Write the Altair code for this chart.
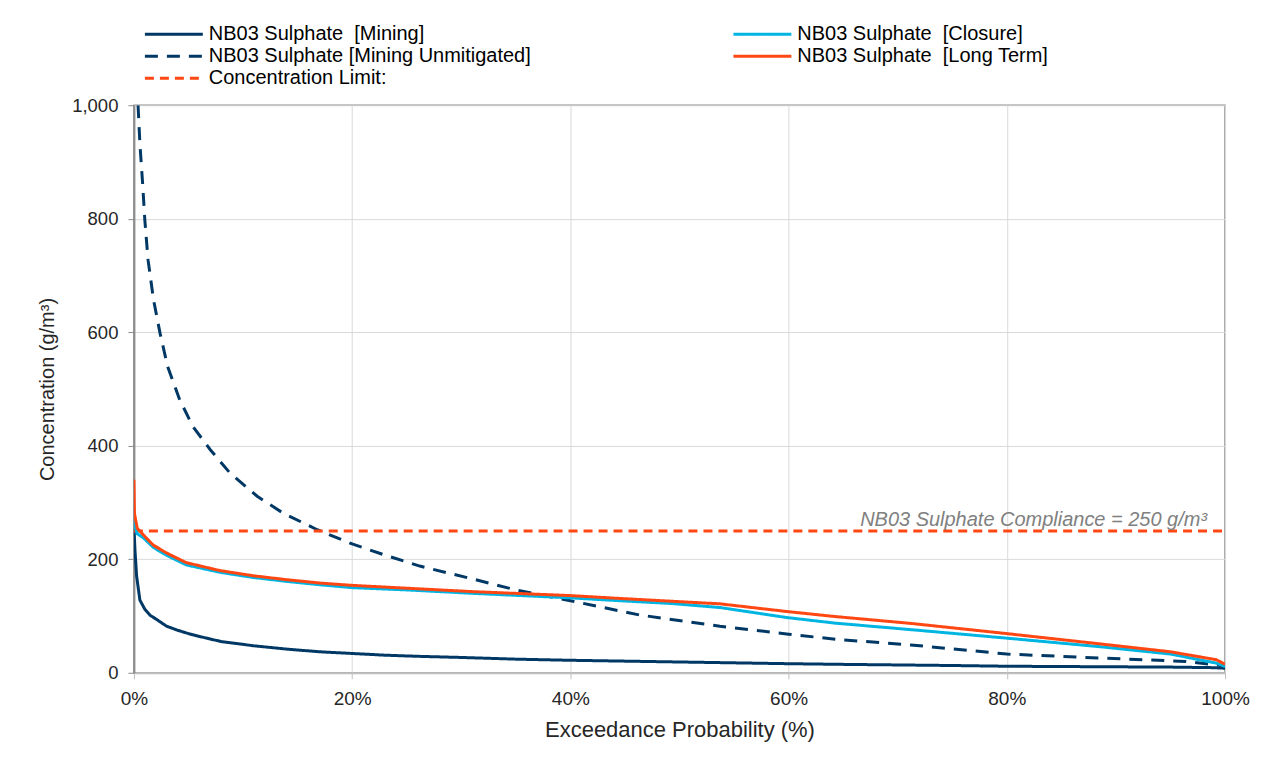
import altair as alt
import pandas as pd

# ---------------- data ----------------
SERIES = [
    "NB03 Sulphate\u00a0 [Mining]",
    "NB03 Sulphate [Mining Unmitigated]",
    "Concentration Limit:",
    "NB03 Sulphate\u00a0 [Closure]",
    "NB03 Sulphate\u00a0 [Long Term]",
]
COLORS = ["#003865", "#003865", "#FF4713", "#00B5E2", "#FF4713"]
DASHES = [[1, 0], [13, 9], [9, 6], [1, 0], [1, 0]]
WIDTHS = [3, 3, 2, 3, 3]

mining_x = [0, 0.1, 0.25, 0.55, 1.0, 1.5, 2, 3, 4, 5, 6, 8, 11, 14, 17, 20, 23, 26, 30, 35,
            40, 45, 50, 55, 60, 65, 70, 75, 80, 85, 90, 95, 99, 100]
mining_y = [260, 215, 170, 128, 112, 101, 95, 82, 75, 69, 64, 55, 47.5, 41.7, 37, 34, 31, 29, 27, 24,
            22, 20.5, 19, 17.5, 16, 14.8, 13.8, 12.8, 11.5, 11, 10.5, 10, 9, 8]

unmit_x = [0.38, 0.55, 0.8, 1.0, 1.3, 1.8, 2.4, 3.1, 4.2, 5.4, 7.0, 8.8, 11.3, 13.7, 16.8, 20,
           22.9, 26.2, 31.1, 35, 40, 46.3, 53.7, 60, 64.3, 71.2, 80, 88.5, 96.4, 100]
unmit_y = [1000, 932, 862, 798, 727, 657, 598, 539, 481, 434, 393, 352, 311, 281, 252, 227,
           208, 188, 165, 146, 127, 102, 82, 68, 59, 49, 33, 26, 20, 12]

closure_x = [0, 0.05, 0.3, 0.86, 1.77, 3.0, 4.8, 7.9, 10.9, 14, 17.1, 20, 25, 31, 40, 44.5,
             49.3, 53.7, 59.8, 64.3, 71.2, 80, 88.5, 95, 99.2, 100]
closure_y = [275, 262, 245, 238, 221, 207, 190, 177, 168, 161, 155, 150, 146, 140, 132, 127,
             122, 115, 97.4, 87.4, 76, 61, 46, 33, 17, 11]

longterm_x = [0, 0.05, 0.3, 0.86, 1.77, 3.0, 4.8, 7.9, 10.9, 14, 17.1, 20, 25, 31, 40, 44.5,
              49.3, 53.7, 59.8, 64.3, 71.2, 80, 88.5, 95, 99.2, 100]
longterm_y = [340, 281, 255, 243, 225, 211, 194, 180, 171, 164, 158, 154, 149, 143, 136, 131,
              126, 121.5, 108, 99, 87, 69, 51, 37, 23, 15]

limit_x = [0, 100]
limit_y = [250, 250]

annot_x = [100]
annot_y = [250]
annot_text = ["NB03 Sulphate Compliance = 250 g/m³"]

x_ticks = [0, 20, 40, 60, 80, 100]
y_ticks = [0, 200, 400, 600, 800, 1000]

# ---------------- table ----------------
rows = []
for name, xs, ys in [
    (SERIES[0], mining_x, mining_y),
    (SERIES[1], unmit_x, unmit_y),
    (SERIES[2], limit_x, limit_y),
    (SERIES[3], closure_x, closure_y),
    (SERIES[4], longterm_x, longterm_y),
]:
    for i, (xv, yv) in enumerate(zip(xs, ys)):
        rows.append({"series": name, "x": xv, "y": yv, "i": i})
df = pd.DataFrame(rows)

FONT = "Liberation Sans"
W, H = 1092, 568

x_enc = alt.X("x:Q", scale=alt.Scale(domain=[0, 100], nice=False),
              axis=alt.Axis(values=x_ticks, labelExpr="datum.value + '%'",
                            title="Exceedance Probability (%)", titleFontSize=22,
                            titleFontWeight="normal", titlePadding=11,
                            labelFontSize=19, labelPadding=11, tickSize=6, labelFlush=False,
                            domainColor="#bfbfbf", domainWidth=2, tickColor="#bfbfbf",
                            grid=True, gridColor="#d9d9d9"))
y_enc = alt.Y("y:Q", scale=alt.Scale(domain=[0, 1000], nice=False),
              axis=alt.Axis(values=y_ticks, format=",.0f", title="Concentration (g/m³)",
                            titleFontSize=20, titleFontWeight="normal", titlePadding=14,
                            labelFontSize=18.5, labelPadding=10, tickSize=6, labelFlush=False,
                            domainColor="#8c8c8c", domainWidth=2, tickColor="#8c8c8c",
                            grid=True, gridColor="#d9d9d9"))

lines = alt.Chart(df).mark_line(clip=True, strokeCap="butt").encode(
    x=x_enc,
    y=y_enc,
    order="i:Q",
    color=alt.Color("series:N", scale=alt.Scale(domain=SERIES, range=COLORS),
                    legend=alt.Legend(title=None, orient="none", legendX=9, legendY=-81,
                                      columns=2, columnPadding=196, rowPadding=2,
                                      symbolType="M-4,0L4,0", symbolSize=210,
                                      symbolOffset=21,
                                      symbolStrokeWidth=3, labelFontSize=20,
                                      labelOffset=25, labelLimit=600, labelColor="#000000",
                                      labelFont=FONT)),
    strokeDash=alt.StrokeDash("series:N", scale=alt.Scale(domain=SERIES, range=DASHES)),
    strokeWidth=alt.StrokeWidth("series:N", scale=alt.Scale(domain=SERIES, range=WIDTHS),
                                legend=None),
)

annot_df = pd.DataFrame({"x": annot_x, "y": annot_y, "t": annot_text})
annot = alt.Chart(annot_df).mark_text(
    align="right", baseline="alphabetic", dx=-18, dy=-5,
    fontSize=20, fontStyle="italic", color="#808080", font=FONT
).encode(x="x:Q", y="y:Q", text="t:N")

border = alt.Chart(pd.DataFrame({"a": [0]})).mark_rect(
    fillOpacity=0, stroke="#d9d9d9", strokeWidth=1.5
).encode(x=alt.value(-127), x2=alt.value(W + 200), y=alt.value(-98), y2=alt.value(H + 200))

chart = alt.layer(border, lines, annot).properties(
    width=W, height=H,
    autosize=alt.AutoSizeParams(type="none"),
    padding={"left": 126, "top": 97, "right": 44, "bottom": 87},
).configure(font=FONT).configure_view(
    stroke="#8c8c8c", strokeWidth=1.5
).configure_axis(
    labelColor="#262626", titleColor="#262626", labelFont=FONT, titleFont=FONT
)

chart.save("out.html", embed_options={"renderer": "svg", "actions": False})
